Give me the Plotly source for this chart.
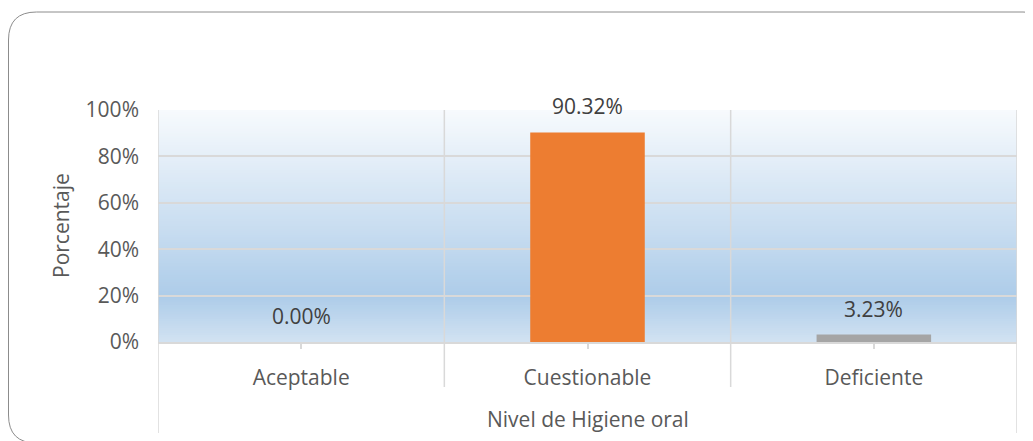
import plotly.graph_objects as go

categorias = ["Aceptable", "Cuestionable", "Deficiente"]
porcentajes = [0.0, 0.9032, 0.0323]
colores = ["#5B9BD5", "#ED7D31", "#A5A5A5"]

# la pagina deja 8px de margen en el body: el grafico ocupa 1025x433
OFF = 8
W, H = 1033 - OFF, 441 - OFF
L, R, T, B = 158 - OFF, 16, 110 - OFF, 99
PW, PH = W - L - R, H - T - B
GRID = "#D9D9D9"
TXT = "#595959"
FONT = "Open Sans, Calibri, Arial, sans-serif"
FS = 21


def px_x(px):
    # px en coordenadas de la pagina -> paper
    return (px - OFF - L) / PW


def px_y(py):
    return (H - B - (py - OFF)) / PH


def mix(c1, c2, t):
    a = [int(c1[i:i + 2], 16) for i in (1, 3, 5)]
    b = [int(c2[i:i + 2], 16) for i in (1, 3, 5)]
    return "rgb(%d,%d,%d)" % tuple(round(a[k] + (b[k] - a[k]) * t) for k in range(3))


fig = go.Figure(go.Bar(x=categorias, y=porcentajes, marker_color=colores, marker_line_width=0, width=0.4))

shapes = []
# fondo degradado del area de trazado (arriba claro, 80% oscuro, abajo mas claro)
n = 100
for i in range(n):
    t = i / n
    if t < 0.8:
        col = mix("#F7FAFD", "#ADCCE9", t / 0.8)
    else:
        col = mix("#ADCCE9", "#D3E3F2", (t - 0.8) / 0.2)
    shapes.append(dict(type="rect", xref="x domain", yref="y domain", x0=0, x1=1,
                       y0=0, y1=1 - i / n, fillcolor=col, line_width=0, layer="below"))

# lineas verticales entre categorias (se extienden bajo el eje como en Excel)
for xv, ybot in [(-0.5, px_y(433)), (0.5, px_y(387)), (1.5, px_y(387)), (2.5, px_y(433))]:
    shapes.append(dict(type="line", xref="x", yref="paper", x0=xv, x1=xv, y0=ybot, y1=1,
                       line=dict(color=GRID, width=1.5), layer="above"))

# borde redondeado del grafico
r = 28
x0, x1, y0, y1 = 8.5, 1051, 12, 443
path = (f"M {px_x(x0)},{px_y(y0 + r)} Q {px_x(x0)},{px_y(y0)} {px_x(x0 + r)},{px_y(y0)} "
        f"L {px_x(x1 - r)},{px_y(y0)} Q {px_x(x1)},{px_y(y0)} {px_x(x1)},{px_y(y0 + r)} "
        f"L {px_x(x1)},{px_y(y1 - r)} Q {px_x(x1)},{px_y(y1)} {px_x(x1 - r)},{px_y(y1)} "
        f"L {px_x(x0 + r)},{px_y(y1)} Q {px_x(x0)},{px_y(y1)} {px_x(x0)},{px_y(y1 - r)} Z")
shapes.append(dict(type="path", xref="paper", yref="paper", path=path,
                   line=dict(color="#8C8C8C", width=1), layer="below"))

annotations = [dict(x=c, y=v, xref="x", yref="y", text=f"{v * 100:.2f}%", showarrow=False,
                    yanchor="middle", yshift=26, font=dict(size=FS, color="#404040", family=FONT))
               for c, v in zip(categorias, porcentajes)]
annotations.append(dict(x=0.5, y=px_y(419), xref="paper", yref="paper", text="Nivel de Higiene oral",
                        showarrow=False, yanchor="middle", font=dict(size=FS, color=TXT, family=FONT)))
annotations.append(dict(x=px_x(61), y=0.5, xref="paper", yref="paper", text="Porcentaje", textangle=-90,
                        showarrow=False, xanchor="center", font=dict(size=FS, color=TXT, family=FONT)))

fig.update_layout(
    width=W, height=H, margin=dict(l=L, r=R, t=T, b=B),
    paper_bgcolor="white", plot_bgcolor="rgba(0,0,0,0)",
    font=dict(family=FONT, size=FS, color=TXT),
    showlegend=False, shapes=shapes, annotations=annotations,
    xaxis=dict(type="category", range=[-0.5, 2.5], showgrid=False, showline=True, linecolor=GRID,
               linewidth=1.5, ticks="outside", ticklen=5, tickcolor=GRID, tickwidth=1.5,
               ticklabelstandoff=11, zeroline=False),
    yaxis=dict(range=[0, 1], dtick=0.2, tickformat=".0%", showgrid=True, gridcolor=GRID, gridwidth=1.5,
               zeroline=False, showline=False, ticklabelstandoff=18),
)

fig.write_html("out.html")
